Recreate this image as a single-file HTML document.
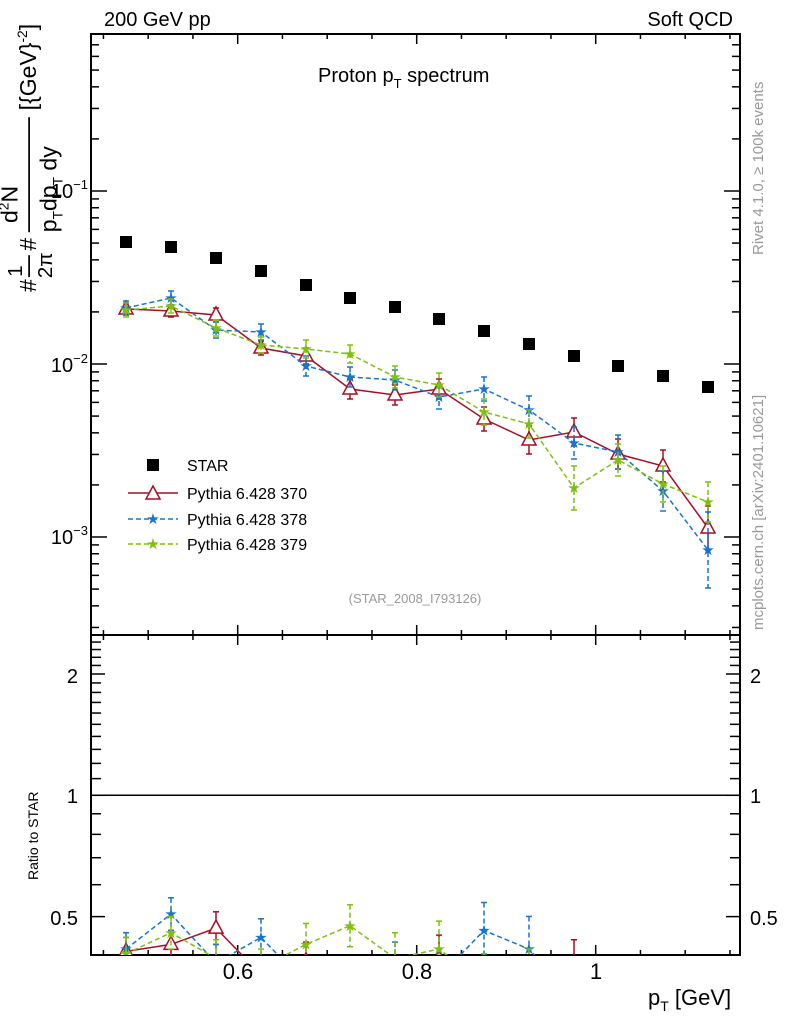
<!DOCTYPE html>
<html><head><meta charset="utf-8"><style>
html,body{margin:0;padding:0;background:#fff;width:786px;height:1024px;overflow:hidden}
svg{display:block;font-family:"Liberation Sans",sans-serif}
</style></head><body>
<svg id="s" width="786" height="1024" viewBox="0 0 786 1024" xmlns="http://www.w3.org/2000/svg">
<defs>
<clipPath id="cm"><rect x="91" y="34" width="649" height="601"/></clipPath>
<clipPath id="cr"><rect x="91" y="635" width="649" height="320"/></clipPath>
</defs>
<rect x="91" y="34" width="649" height="921" fill="none" stroke="#000" stroke-width="2"/>
<line x1="91" y1="635" x2="740" y2="635" stroke="#000" stroke-width="2"/>
<g id="ticks" stroke="#000" stroke-width="1.5"></g>
<g id="data"></g>
<line x1="91" y1="795.3" x2="740" y2="795.3" stroke="#000" stroke-width="1.5"/>
<text x="104" y="26" font-size="20">200 GeV pp</text>
<text x="733" y="26" font-size="20" text-anchor="end">Soft QCD</text>
<text x="318" y="82" font-size="20">Proton p<tspan font-size="13" dy="6">T</tspan><tspan dy="-6"> spectrum</tspan></text>
<text x="415" y="603" font-size="13" fill="#999" text-anchor="middle">(STAR_2008_I793126)</text>
<g font-size="20">
<text x="88" y="198" text-anchor="end">10<tspan font-size="13" dy="-9">−1</tspan></text>
<text x="88" y="372" text-anchor="end">10<tspan font-size="13" dy="-9">−2</tspan></text>
<text x="88" y="544" text-anchor="end">10<tspan font-size="13" dy="-9">−3</tspan></text>
<text x="78" y="683" text-anchor="end">2</text>
<text x="78" y="803" text-anchor="end">1</text>
<text x="78" y="925" text-anchor="end">0.5</text>
<text x="750" y="683">2</text>
<text x="750" y="803">1</text>
<text x="750" y="925">0.5</text>
</g>
<g font-size="22">
<text x="238" y="979" text-anchor="middle">0.6</text>
<text x="417" y="979" text-anchor="middle">0.8</text>
<text x="596" y="979" text-anchor="middle">1</text>
<text x="648" y="1005">p<tspan font-size="14" dy="6">T</tspan><tspan dy="-6"> [GeV]</tspan></text>
</g>
<text transform="translate(38,880) rotate(-90)" font-size="14">Ratio to STAR</text>
<g transform="translate(36,292) rotate(-90) scale(1.15)" font-size="20">
<text x="0" y="0">#<tspan dx="2" dy="-12" font-size="18">1</tspan></text>
<line x1="13" y1="-6" x2="32" y2="-6" stroke="#000" stroke-width="1.5"/>
<text x="12" y="14" font-size="18">2π</text>
<text x="36" y="0">#</text>
<text x="60" y="-16" font-size="20">d<tspan font-size="12" dy="-8">2</tspan><tspan dy="8">N</tspan></text>
<line x1="52" y1="-6" x2="152" y2="-6" stroke="#000" stroke-width="1.5"/>
<text x="52" y="18">p<tspan font-size="12" dy="5">T</tspan><tspan dy="-5">dp</tspan><tspan font-size="12" dy="5">T</tspan><tspan dy="-5"> dy</tspan></text>
<text x="158" y="0">[{GeV}<tspan font-size="12" dy="-8">-2</tspan><tspan dy="8">]</tspan></text>
</g>
<text transform="translate(763,255) rotate(-90)" font-size="15" fill="#999">Rivet 4.1.0, ≥ 100k events</text>
<text transform="translate(763,630) rotate(-90)" font-size="15" fill="#999">mcplots.cern.ch [arXiv:2401.10621]</text>
<g font-size="16">
<rect x="147" y="459" width="12" height="12" fill="#000"/>
<text x="187" y="471">STAR</text>
<line x1="128" y1="493" x2="178" y2="493" stroke="#a50f26" stroke-width="1.5"/>
<polygon points="153,486 160,499 146,499" fill="#fff" stroke="#a50f26" stroke-width="1.5"/>
<text x="187" y="499">Pythia 6.428 370</text>
<line x1="128" y1="519" x2="178" y2="519" stroke="#1874cd" stroke-width="1.5" stroke-dasharray="5,3"/>
<text x="153" y="524" font-size="15" fill="#1874cd" text-anchor="middle">★</text>
<text x="187" y="525">Pythia 6.428 378</text>
<line x1="128" y1="544" x2="178" y2="544" stroke="#7fbf0f" stroke-width="1.5" stroke-dasharray="5,3"/>
<text x="153" y="549" font-size="15" fill="#7fbf0f" text-anchor="middle">★</text>
<text x="187" y="550">Pythia 6.428 379</text>
</g>
</svg>
<script>
var NS="http://www.w3.org/2000/svg";
function el(p,t,a){var e=document.createElementNS(NS,t);for(var k in a)e.setAttribute(k,a[k]);p.appendChild(e);return e;}
var T=document.getElementById("ticks");
function X(v){return 237.7+(v-0.6)*895;}
for(var i=9;i<=23;i++){var v=i*0.05;var x=X(v);if(x<92||x>739)continue;var maj=(i%4==0);
 var L=maj?10:5;
 [[34,1],[635,-1],[635,1],[955,-1]].forEach(function(p){el(T,"line",{x1:x,x2:x,y1:p[0],y2:p[0]+p[1]*L});});}
function ym(v){return 191-173*Math.log10(v/0.1);}
for(var d=-4;d<=0;d++)for(var m=1;m<=9;m++){var v=m*Math.pow(10,d);var y=ym(v);if(y<35||y>634)continue;var L=m==1?16:8;
 el(T,"line",{x1:91,x2:91+L,y1:y,y2:y});el(T,"line",{x1:740,x2:740-L,y1:y,y2:y});}
function yr(v){return 795.3-403*Math.log10(v);}
[0.5,0.6,0.7,0.8,0.9,1,1.1,1.2,1.3,1.4,1.5,1.6,1.7,1.8,1.9,2,2.1,2.2,2.3,2.4].forEach(function(v){var y=yr(v);if(y<636||y>954)return;
 var L=(v==0.5||v==1||v==2)?14:10;el(T,"line",{x1:91,x2:91+L,y1:y,y2:y});el(T,"line",{x1:740,x2:740-L,y1:y,y2:y});});
var xs=[126,171,216,261,306,350,395,439,484,529,574,618,663,708];
var S=[242,247,258,271,285,298,307,319,331,344,356,366,376,387];
var series=[
 {c:"#a50f26",dash:"",m:"tri",y:[309,311,315,348,356,389,395,389,419,440,432,454,466,528],e:[6,6,7,7,8,10,10,10,12,14,14,15,16,22]},
 {c:"#1874cd",dash:"5,3",m:"star",y:[308,298,330,332,366,377,380,397,389,410,443,452,491,550],e:[7,7,8,8,10,10,10,12,12,14,16,17,20,38]},
 {c:"#7fbf0f",dash:"5,3",m:"star",y:[310,306,328,345,349,354,377,385,412,424,488,460,484,502],e:[7,7,8,8,9,9,11,12,13,14,22,16,18,20]}];
var D=document.getElementById("data");
var gm=el(D,"g",{"clip-path":"url(#cm)"}),gr=el(D,"g",{"clip-path":"url(#cr)"});
xs.forEach(function(x,i){el(gm,"rect",{x:x-6,y:S[i]-6,width:12,height:12,fill:"#000"});});
series.forEach(function(s){
 [[gm,function(i){return s.y[i];},function(i){return s.e[i];}],[gr,function(i){return 795.3+2.33*(s.y[i]-S[i]);},function(i){return s.e[i]*2.33;}]].forEach(function(P){
  var g=P[0],pts=xs.map(function(x,i){return x+","+P[1](i);}).join(" ");
  el(g,"polyline",{points:pts,fill:"none",stroke:s.c,"stroke-width":1.5,"stroke-dasharray":s.dash});
  xs.forEach(function(x,i){var y=P[1](i),e=P[2](i);
   el(g,"line",{x1:x,x2:x,y1:y-e,y2:y+e,stroke:s.c,"stroke-width":1.5,"stroke-dasharray":s.dash});
   el(g,"line",{x1:x-3,x2:x+3,y1:y-e,y2:y-e,stroke:s.c,"stroke-width":1.5});
   el(g,"line",{x1:x-3,x2:x+3,y1:y+e,y2:y+e,stroke:s.c,"stroke-width":1.5});
   if(s.m=="tri")el(g,"polygon",{points:(x)+","+(y-8)+" "+(x+7)+","+(y+5)+" "+(x-7)+","+(y+5),fill:"#fff",stroke:s.c,"stroke-width":1.5});
   else{var t=el(g,"text",{x:x,y:y+5,"font-size":15,fill:s.c,"text-anchor":"middle"});t.textContent="★";}
  });});
});
</script>
</body></html>
